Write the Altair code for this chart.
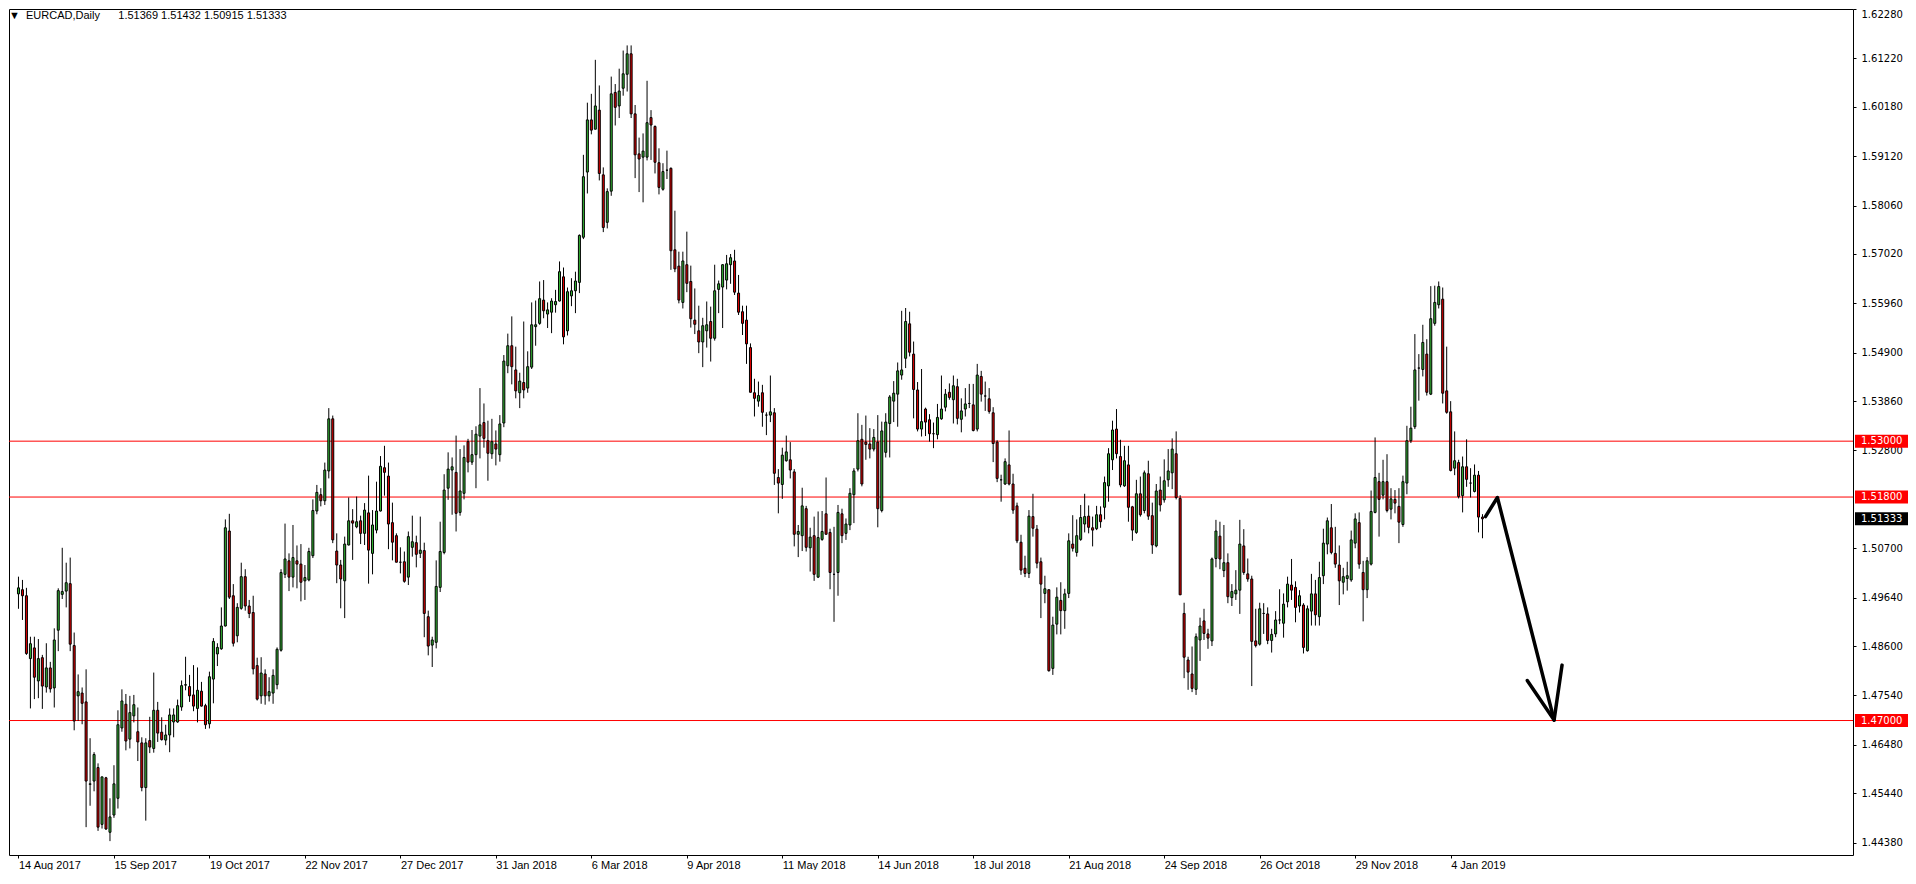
import json
import altair as alt
import pandas as pd

# ---- data (EURCAD daily) ----
opens = [
    1.4972, 1.4981, 1.4968, 1.4833, 1.4856, 1.4785, 1.4835, 1.4772, 1.4813, 1.4770,
    1.4894, 1.4971, 1.4978, 1.4994, 1.4861, 1.4753, 1.4759, 1.4740, 1.4563, 1.4570,
    1.4599, 1.4477, 1.4577, 1.4460, 1.4497, 1.4533, 1.4684, 1.4735, 1.4660, 1.4710,
    1.4676, 1.4652, 1.4556, 1.4657, 1.4640, 1.4722, 1.4675, 1.4658, 1.4669, 1.4697,
    1.4697, 1.4729, 1.4776, 1.4773, 1.4755, 1.4726, 1.4763, 1.4732, 1.4693, 1.4789,
    1.4843, 1.4854, 1.4903, 1.5107, 1.4968, 1.4882, 1.4941, 1.5009, 1.4946, 1.4932,
    1.4818, 1.4753, 1.4800, 1.4753, 1.4759, 1.4777, 1.4851, 1.5014, 1.5043, 1.5008,
    1.5043, 1.5036, 1.5000, 1.5002, 1.5054, 1.5150, 1.5185, 1.5172, 1.5236, 1.5348,
    1.5064, 1.5034, 1.5000, 1.5077, 1.5129, 1.5116, 1.5129, 1.5102, 1.5146, 1.5059,
    1.5109, 1.5150, 1.5243, 1.5225, 1.5125, 1.5097, 1.5040, 1.5041, 1.5008, 1.5072,
    1.5082, 1.5059, 1.5065, 1.4923, 1.4862, 1.4868, 1.4986, 1.5061, 1.5199, 1.5238,
    1.5233, 1.5147, 1.5188, 1.5299, 1.5255, 1.5271, 1.5311, 1.5340, 1.5301, 1.5273,
    1.5294, 1.5271, 1.5339, 1.5462, 1.5505, 1.5453, 1.5404, 1.5426, 1.5414, 1.5459,
    1.5546, 1.5553, 1.5603, 1.5573, 1.5577, 1.5593, 1.5601, 1.5653, 1.5537, 1.5612,
    1.5623, 1.5641, 1.5738, 1.5878, 1.5990, 1.5970, 1.6011, 1.5872, 1.5770, 1.5837,
    1.6049, 1.6020, 1.6058, 1.6088, 1.6132, 1.6003, 1.5917, 1.5910, 1.5910, 1.5995,
    1.5976, 1.5898, 1.5841, 1.5882, 1.5886, 1.5711, 1.5676, 1.5598, 1.5679, 1.5643,
    1.5560, 1.5537, 1.5513, 1.5537, 1.5557, 1.5521, 1.5626, 1.5631, 1.5646, 1.5679,
    1.5687, 1.5618, 1.5578, 1.5560, 1.5501, 1.5404, 1.5386, 1.5404, 1.5356, 1.5356,
    1.5361, 1.5222, 1.5207, 1.5258, 1.5260, 1.5234, 1.5100, 1.5097, 1.5155, 1.5071,
    1.5097, 1.5008, 1.5089, 1.5144, 1.5104, 1.5014, 1.5018, 1.5144, 1.5102, 1.5120,
    1.5185, 1.5240, 1.5304, 1.5298, 1.5294, 1.5283, 1.5298, 1.5151, 1.5276, 1.5338,
    1.5386, 1.5401, 1.5442, 1.5478, 1.5552, 1.5487, 1.5410, 1.5326, 1.5369, 1.5346,
    1.5316, 1.5314, 1.5348, 1.5373, 1.5405, 1.5389, 1.5417, 1.5347, 1.5369, 1.5381,
    1.5378, 1.5326, 1.5439, 1.5397, 1.5391, 1.5361, 1.5298, 1.5217, 1.5208, 1.5249,
    1.5208, 1.5161, 1.5083, 1.5027, 1.5016, 1.5138, 1.5111, 1.5041, 1.4973, 1.4981,
    1.4812, 1.4907, 1.4958, 1.4936, 1.4973, 1.5079, 1.5061, 1.5089, 1.5122, 1.5139,
    1.5114, 1.5112, 1.5142, 1.5158, 1.5204, 1.5260, 1.5326, 1.5267, 1.5204, 1.5249,
    1.5159, 1.5104, 1.5187, 1.5151, 1.5230, 1.5140, 1.5075, 1.5195, 1.5174, 1.5217,
    1.5232, 1.5273, 1.5177, 1.4930, 1.4830, 1.4800, 1.4767, 1.4873, 1.4914, 1.4886,
    1.4871, 1.5048, 1.5096, 1.5022, 1.5039, 1.4964, 1.4972, 1.4980, 1.5075, 1.5015,
    1.5004, 1.4871, 1.4864, 1.4930, 1.4929, 1.4872, 1.4886, 1.4916, 1.4909, 1.4955,
    1.4991, 1.4986, 1.4946, 1.4948, 1.4850, 1.4935, 1.4972, 1.4923, 1.5011, 1.5079,
    1.5114, 1.5059, 1.5034, 1.4997, 1.5005, 1.5002, 1.5081, 1.5125, 1.5018, 1.4981,
    1.5036, 1.5147, 1.5213, 1.5184, 1.5213, 1.5154, 1.5175, 1.5160, 1.5121, 1.5210,
    1.5301, 1.5331, 1.5457, 1.5454, 1.5487, 1.5401, 1.5553, 1.5593, 1.5605, 1.5408,
    1.5363, 1.5242, 1.5254, 1.5183, 1.5245, 1.5210, 1.5192, 1.5227, 1.51369,
]

highs = [
    1.5009, 1.5002, 1.4985, 1.4880, 1.4880, 1.4875, 1.4841, 1.4866, 1.4826, 1.4898,
    1.4984, 1.5071, 1.5039, 1.5050, 1.4889, 1.4799, 1.4771, 1.4810, 1.4662, 1.4632,
    1.4608, 1.4579, 1.4579, 1.4533, 1.4604, 1.4722, 1.4767, 1.4757, 1.4753, 1.4755,
    1.4728, 1.4664, 1.4662, 1.4708, 1.4803, 1.4740, 1.4707, 1.4691, 1.4726, 1.4726,
    1.4745, 1.4786, 1.4837, 1.4798, 1.4819, 1.4814, 1.4783, 1.4736, 1.4805, 1.4877,
    1.4866, 1.4943, 1.5132, 1.5144, 1.4993, 1.4952, 1.5039, 1.5025, 1.4959, 1.4968,
    1.4835, 1.4836, 1.4810, 1.4793, 1.4810, 1.4857, 1.5025, 1.5123, 1.5059, 1.5120,
    1.5076, 1.5079, 1.5034, 1.5071, 1.5175, 1.5206, 1.5199, 1.5254, 1.5371, 1.5355,
    1.5102, 1.5045, 1.5095, 1.5179, 1.5154, 1.5181, 1.5140, 1.5167, 1.5226, 1.5152,
    1.5213, 1.5268, 1.5290, 1.5254, 1.5168, 1.5102, 1.5072, 1.5063, 1.5106, 1.5140,
    1.5097, 1.5138, 1.5082, 1.4936, 1.4880, 1.5044, 1.5127, 1.5229, 1.5276, 1.5265,
    1.5312, 1.5283, 1.5291, 1.5305, 1.5324, 1.5332, 1.5414, 1.5381, 1.5344, 1.5348,
    1.5323, 1.5356, 1.5485, 1.5531, 1.5568, 1.5503, 1.5447, 1.5557, 1.5493, 1.5598,
    1.5602, 1.5643, 1.5646, 1.5598, 1.5607, 1.5625, 1.5686, 1.5673, 1.5630, 1.5650,
    1.5664, 1.5744, 1.5915, 1.6027, 1.6046, 1.6119, 1.6064, 1.5888, 1.5843, 1.6083,
    1.6067, 1.6100, 1.6139, 1.6150, 1.6150, 1.6022, 1.5952, 1.5961, 1.6074, 1.6011,
    1.5978, 1.5929, 1.5897, 1.5924, 1.5888, 1.5795, 1.5707, 1.5707, 1.5750, 1.5677,
    1.5628, 1.5591, 1.5565, 1.5600, 1.5589, 1.5679, 1.5645, 1.5680, 1.5700, 1.5702,
    1.5711, 1.5657, 1.5591, 1.5591, 1.5510, 1.5434, 1.5428, 1.5421, 1.5362, 1.5441,
    1.5371, 1.5240, 1.5286, 1.5312, 1.5298, 1.5240, 1.5120, 1.5200, 1.5161, 1.5114,
    1.5138, 1.5149, 1.5150, 1.5222, 1.5112, 1.5116, 1.5163, 1.5155, 1.5134, 1.5199,
    1.5242, 1.5360, 1.5335, 1.5355, 1.5328, 1.5326, 1.5356, 1.5342, 1.5360, 1.5399,
    1.5429, 1.5469, 1.5580, 1.5586, 1.5578, 1.5514, 1.5427, 1.5455, 1.5372, 1.5358,
    1.5340, 1.5380, 1.5441, 1.5412, 1.5424, 1.5441, 1.5434, 1.5392, 1.5414, 1.5423,
    1.5423, 1.5466, 1.5451, 1.5428, 1.5414, 1.5373, 1.5302, 1.5228, 1.5263, 1.5323,
    1.5230, 1.5168, 1.5099, 1.5054, 1.5152, 1.5187, 1.5120, 1.5050, 1.5011, 1.4981,
    1.4923, 1.4986, 1.4997, 1.4983, 1.5102, 1.5141, 1.5132, 1.5163, 1.5187, 1.5162,
    1.5138, 1.5161, 1.5160, 1.5224, 1.5285, 1.5344, 1.5369, 1.5303, 1.5290, 1.5290,
    1.5161, 1.5217, 1.5224, 1.5237, 1.5258, 1.5168, 1.5208, 1.5224, 1.5261, 1.5283,
    1.5306, 1.5321, 1.5184, 1.4953, 1.4837, 1.4859, 1.4887, 1.4921, 1.4940, 1.4897,
    1.5050, 1.5131, 1.5127, 1.5120, 1.5059, 1.4993, 1.5023, 1.5131, 1.5111, 1.5048,
    1.5011, 1.4940, 1.4953, 1.4952, 1.4943, 1.4897, 1.4935, 1.4982, 1.4973, 1.5009,
    1.5047, 1.4999, 1.4980, 1.4952, 1.4947, 1.5015, 1.5002, 1.5041, 1.5112, 1.5136,
    1.5165, 1.5116, 1.5076, 1.5028, 1.5041, 1.5108, 1.5145, 1.5147, 1.5043, 1.5051,
    1.5194, 1.5308, 1.5232, 1.5260, 1.5272, 1.5199, 1.5195, 1.5199, 1.5226, 1.5333,
    1.5374, 1.5530, 1.5487, 1.5550, 1.5519, 1.5633, 1.5634, 1.5643, 1.5630, 1.5503,
    1.5386, 1.5321, 1.5260, 1.5267, 1.5304, 1.5242, 1.5250, 1.5236, 1.51432,
]

lows = [
    1.4940, 1.4916, 1.4841, 1.4726, 1.4746, 1.4748, 1.4725, 1.4760, 1.4760, 1.4728,
    1.4849, 1.4961, 1.4943, 1.4849, 1.4679, 1.4699, 1.4692, 1.4471, 1.4517, 1.4548,
    1.4463, 1.4468, 1.4465, 1.4441, 1.4491, 1.4511, 1.4676, 1.4636, 1.4640, 1.4696,
    1.4613, 1.4548, 1.4485, 1.4630, 1.4631, 1.4654, 1.4657, 1.4647, 1.4632, 1.4664,
    1.4695, 1.4721, 1.4765, 1.4740, 1.4720, 1.4696, 1.4730, 1.4682, 1.4683, 1.4737,
    1.4817, 1.4852, 1.4902, 1.4961, 1.4859, 1.4868, 1.4938, 1.4936, 1.4920, 1.4799,
    1.4743, 1.4736, 1.4734, 1.4741, 1.4736, 1.4767, 1.4848, 1.5006, 1.4978, 1.4986,
    1.4984, 1.4956, 1.4959, 1.4999, 1.5049, 1.5143, 1.5160, 1.5163, 1.5220, 1.5081,
    1.4995, 1.4941, 1.4920, 1.5076, 1.5045, 1.5113, 1.5079, 1.5077, 1.4994, 1.5014,
    1.5102, 1.5149, 1.5183, 1.5068, 1.5044, 1.5040, 1.5016, 1.4996, 1.4991, 1.5052,
    1.5029, 1.5049, 1.4879, 1.4840, 1.4815, 1.4855, 1.4976, 1.5057, 1.5174, 1.5142,
    1.5106, 1.5140, 1.5175, 1.5233, 1.5249, 1.5199, 1.5263, 1.5286, 1.5215, 1.5262,
    1.5248, 1.5256, 1.5330, 1.5446, 1.5422, 1.5392, 1.5371, 1.5392, 1.5404, 1.5455,
    1.5505, 1.5550, 1.5564, 1.5543, 1.5532, 1.5576, 1.5600, 1.5508, 1.5527, 1.5590,
    1.5575, 1.5618, 1.5734, 1.5832, 1.5959, 1.5970, 1.5860, 1.5749, 1.5757, 1.5827,
    1.5978, 1.5994, 1.6042, 1.6051, 1.5994, 1.5865, 1.5835, 1.5813, 1.5903, 1.5904,
    1.5875, 1.5830, 1.5838, 1.5863, 1.5668, 1.5663, 1.5596, 1.5585, 1.5620, 1.5544,
    1.5530, 1.5489, 1.5459, 1.5501, 1.5471, 1.5516, 1.5575, 1.5543, 1.5626, 1.5638,
    1.5614, 1.5571, 1.5528, 1.5466, 1.5405, 1.5353, 1.5374, 1.5331, 1.5313, 1.5341,
    1.5206, 1.5145, 1.5176, 1.5256, 1.5220, 1.5074, 1.5051, 1.5064, 1.5063, 1.5020,
    1.5000, 1.5006, 1.5086, 1.5100, 1.4982, 1.4912, 1.4968, 1.5081, 1.5088, 1.5109,
    1.5124, 1.5235, 1.5203, 1.5260, 1.5263, 1.5278, 1.5115, 1.5147, 1.5265, 1.5265,
    1.5341, 1.5331, 1.5432, 1.5457, 1.5482, 1.5349, 1.5321, 1.5310, 1.5311, 1.5299,
    1.5285, 1.5304, 1.5346, 1.5364, 1.5389, 1.5338, 1.5336, 1.5319, 1.5353, 1.5371,
    1.5321, 1.5321, 1.5385, 1.5365, 1.5359, 1.5255, 1.5212, 1.5170, 1.5206, 1.5205,
    1.5144, 1.5081, 1.5013, 1.5008, 1.5006, 1.5095, 1.5027, 1.4920, 1.4952, 1.4805,
    1.4798, 1.4885, 1.4885, 1.4897, 1.4963, 1.5063, 1.5052, 1.5086, 1.5104, 1.5102,
    1.5074, 1.5109, 1.5114, 1.5132, 1.5170, 1.5238, 1.5263, 1.5201, 1.5202, 1.5127,
    1.5086, 1.5101, 1.5138, 1.5145, 1.5131, 1.5058, 1.5072, 1.5149, 1.5168, 1.5202,
    1.5197, 1.5175, 1.4970, 1.4791, 1.4766, 1.4761, 1.4755, 1.4828, 1.4873, 1.4854,
    1.4860, 1.5029, 1.5025, 1.5008, 1.4952, 1.4946, 1.4959, 1.4929, 1.5013, 1.4998,
    1.4774, 1.4857, 1.4861, 1.4886, 1.4864, 1.4846, 1.4879, 1.4907, 1.4878, 1.4943,
    1.4959, 1.4911, 1.4932, 1.4844, 1.4848, 1.4904, 1.4904, 1.4904, 1.4993, 1.5057,
    1.5057, 1.5028, 1.4948, 1.4971, 1.4979, 1.4998, 1.5070, 1.5026, 1.4913, 1.4963,
    1.5033, 1.5145, 1.5095, 1.5175, 1.5147, 1.5132, 1.5145, 1.5081, 1.5116, 1.5186,
    1.5296, 1.5326, 1.5387, 1.5439, 1.5398, 1.5399, 1.5548, 1.5585, 1.5381, 1.5359,
    1.5235, 1.5227, 1.5177, 1.5147, 1.5202, 1.5179, 1.5190, 1.5104, 1.50915,
]

closes = [
    1.4985, 1.4968, 1.4844, 1.4865, 1.4793, 1.4833, 1.4774, 1.4813, 1.4768, 1.4873,
    1.4979, 1.4977, 1.4996, 1.4864, 1.4699, 1.4762, 1.4737, 1.4570, 1.4564, 1.4627,
    1.4471, 1.4579, 1.4467, 1.4493, 1.4564, 1.4691, 1.4742, 1.4656, 1.4717, 1.4734,
    1.4654, 1.4556, 1.4652, 1.4643, 1.4722, 1.4673, 1.4659, 1.4669, 1.4712, 1.4712,
    1.4732, 1.4775, 1.4777, 1.4753, 1.4731, 1.4765, 1.4731, 1.4691, 1.4794, 1.4870,
    1.4857, 1.4903, 1.5114, 1.4965, 1.4866, 1.4943, 1.5009, 1.4946, 1.4930, 1.4811,
    1.4746, 1.4802, 1.4753, 1.4762, 1.4797, 1.4853, 1.5018, 1.5047, 1.5008, 1.5050,
    1.5036, 1.4997, 1.5007, 1.5063, 1.5151, 1.5190, 1.5172, 1.5238, 1.5348, 1.5088,
    1.5034, 1.5004, 1.5079, 1.5129, 1.5124, 1.5127, 1.5102, 1.5152, 1.5066, 1.5120,
    1.5150, 1.5246, 1.5233, 1.5122, 1.5083, 1.5040, 1.5040, 1.4999, 1.5095, 1.5084,
    1.5057, 1.5066, 1.4930, 1.4860, 1.4873, 1.4988, 1.5063, 1.5195, 1.5240, 1.5245,
    1.5145, 1.5193, 1.5265, 1.5255, 1.5271, 1.5315, 1.5335, 1.5306, 1.5274, 1.5299,
    1.5283, 1.5337, 1.5472, 1.5505, 1.5460, 1.5408, 1.5429, 1.5410, 1.5460, 1.5550,
    1.5550, 1.5606, 1.5580, 1.5582, 1.5601, 1.5600, 1.5664, 1.5524, 1.5621, 1.5623,
    1.5644, 1.5742, 1.5868, 1.5990, 1.5968, 1.6020, 1.5875, 1.5759, 1.5836, 1.6046,
    1.6017, 1.6052, 1.6089, 1.6132, 1.6003, 1.5915, 1.5906, 1.5923, 1.5984, 1.5979,
    1.5899, 1.5845, 1.5879, 1.5882, 1.5709, 1.5670, 1.5603, 1.5687, 1.5639, 1.5563,
    1.5551, 1.5513, 1.5548, 1.5550, 1.5521, 1.5623, 1.5638, 1.5679, 1.5681, 1.5694,
    1.5620, 1.5577, 1.5553, 1.5509, 1.5405, 1.5392, 1.5398, 1.5362, 1.5356, 1.5363,
    1.5231, 1.5210, 1.5270, 1.5277, 1.5238, 1.5100, 1.5106, 1.5161, 1.5072, 1.5094,
    1.5014, 1.5093, 1.5106, 1.5100, 1.5018, 1.5014, 1.5147, 1.5097, 1.5122, 1.5188,
    1.5236, 1.5301, 1.5208, 1.5293, 1.5283, 1.5308, 1.5155, 1.5322, 1.5341, 1.5395,
    1.5403, 1.5451, 1.5453, 1.5557, 1.5491, 1.5411, 1.5326, 1.5342, 1.5341, 1.5316,
    1.5316, 1.5351, 1.5369, 1.5401, 1.5394, 1.5419, 1.5349, 1.5365, 1.5380, 1.5381,
    1.5323, 1.5442, 1.5401, 1.5397, 1.5364, 1.5295, 1.5220, 1.5217, 1.5256, 1.5208,
    1.5152, 1.5086, 1.5023, 1.5016, 1.5139, 1.5113, 1.5038, 1.4993, 1.4983, 1.4807,
    1.4905, 1.4965, 1.4936, 1.4972, 1.5086, 1.5070, 1.5097, 1.5136, 1.5138, 1.5115,
    1.5109, 1.5142, 1.5127, 1.5211, 1.5273, 1.5324, 1.5273, 1.5206, 1.5258, 1.5158,
    1.5109, 1.5187, 1.5142, 1.5232, 1.5139, 1.5077, 1.5193, 1.5163, 1.5215, 1.5236,
    1.5283, 1.5179, 1.4970, 1.4836, 1.4804, 1.4769, 1.4880, 1.4903, 1.4887, 1.4877,
    1.5047, 1.5107, 1.5047, 1.5039, 1.4966, 1.4977, 1.4980, 1.5079, 1.5018, 1.5004,
    1.4870, 1.4861, 1.4940, 1.4930, 1.4872, 1.4885, 1.4916, 1.4916, 1.4950, 1.4993,
    1.4980, 1.4943, 1.4968, 1.4857, 1.4940, 1.4972, 1.4927, 1.5007, 1.5081, 1.5129,
    1.5061, 1.5036, 1.5000, 1.5009, 1.5011, 1.5088, 1.5133, 1.5036, 1.4981, 1.5043,
    1.5149, 1.5222, 1.5175, 1.5213, 1.5151, 1.5176, 1.5167, 1.5126, 1.5213, 1.5301,
    1.5328, 1.5453, 1.5457, 1.5512, 1.5405, 1.5563, 1.5598, 1.5632, 1.5403, 1.5362,
    1.5237, 1.5258, 1.5181, 1.5245, 1.5218, 1.5210, 1.5227, 1.5137, 1.51333,
]

date_labels = ["14 Aug 2017", "15 Sep 2017", "19 Oct 2017", "22 Nov 2017",
               "27 Dec 2017", "31 Jan 2018", "6 Mar 2018", "9 Apr 2018",
               "11 May 2018", "14 Jun 2018", "18 Jul 2018", "21 Aug 2018",
               "24 Sep 2018", "26 Oct 2018", "29 Nov 2018", "4 Jan 2019"]
date_label_bars = [0, 24, 48, 72, 96, 120, 144, 168, 192, 216, 240, 264, 288, 312, 336, 360]

price_ticks = [1.62280, 1.61220, 1.60180, 1.59120, 1.58060, 1.57020, 1.55960,
               1.54900, 1.53860, 1.52800, 1.50700, 1.49640, 1.48600, 1.47540,
               1.46480, 1.45440, 1.44380]

levels = [1.53000, 1.51800, 1.47000]
last_price = 1.51333

arrow_bar = [368.75, 371.75, 386.0]
arrow_price = [1.5138, 1.5179, 1.4701]
head_bar = [379.25, 386.0, 388.0]
head_price = [1.4786, 1.4701, 1.4819]

symbol = "EURCAD,Daily"

# ---- chart ----
W, H = 1844, 846
PX_PER_UNIT = 4656.0
TOP = 1.62282

df = pd.DataFrame({
    "i": list(range(len(closes))),
    "open": opens, "high": highs, "low": lows, "close": closes,
})
df["dir"] = ["up" if c >= o else "down" for o, c in zip(opens, closes)]

xs = alt.Scale(domain=[-1.125, -1.125 + W / 4.0], nice=False, zero=False)
ys = alt.Scale(domain=[TOP - H / PX_PER_UNIT, TOP], nice=False, zero=False)

label_expr = json.dumps(date_labels) + "[round(datum.value / 24)]"
x_axis = alt.Axis(values=date_label_bars, labelExpr=label_expr, labelAlign="left",
                  labelBaseline="top", labelPadding=1, tickSize=3, tickColor="black",
                  labelColor="black", labelFont="Liberation Sans", labelFontSize=11,
                  domain=False, grid=False, title=None, labelOverlap=False,
                  labelFlush=False)
y_axis = alt.Axis(orient="right", values=price_ticks, format=".5f",
                  labelFont="DejaVu Sans", labelFontSize=10, labelColor="black",
                  tickColor="black", tickSize=3, labelPadding=5, domain=False,
                  grid=False, title=None, labelOverlap=False, labelFlush=1)

levels_layer = alt.Chart(pd.DataFrame({"price": levels})).mark_rule(
    color="#ff0000", strokeWidth=1
).encode(y=alt.Y("price:Q", scale=ys, axis=y_axis))

wicks = alt.Chart(df).mark_rule(color="black", strokeWidth=1).encode(
    x=alt.X("i:Q", scale=xs, axis=x_axis),
    y=alt.Y("low:Q", scale=ys, axis=y_axis),
    y2="high:Q",
)

bodies = alt.Chart(df).mark_bar(width=2, stroke="black", strokeWidth=1).encode(
    x=alt.X("i:Q", scale=xs, axis=x_axis),
    y=alt.Y("open:Q", scale=ys, axis=y_axis),
    y2="close:Q",
    fill=alt.Fill("dir:N", scale=alt.Scale(domain=["up", "down"],
                                           range=["#33b533", "#e00000"]), legend=None),
)

arrow_df = pd.DataFrame({"bar": arrow_bar, "price": arrow_price, "o": [0, 1, 2]})
head_df = pd.DataFrame({"bar": head_bar, "price": head_price, "o": [0, 1, 2]})

arrow = alt.Chart(arrow_df).mark_line(
    color="black", strokeWidth=3.5, strokeCap="round", strokeJoin="round"
).encode(
    x=alt.X("bar:Q", scale=xs, axis=x_axis),
    y=alt.Y("price:Q", scale=ys, axis=y_axis),
    order="o:Q",
)
head = alt.Chart(head_df).mark_line(
    color="black", strokeWidth=3.5, strokeCap="round", strokeJoin="round"
).encode(
    x=alt.X("bar:Q", scale=xs, axis=x_axis),
    y=alt.Y("price:Q", scale=ys, axis=y_axis),
    order="o:Q",
)

level_tags = pd.DataFrame({"price": levels})
last_tag = pd.DataFrame({"price": [last_price]})


def tag_box(data, fill):
    return alt.Chart(data).mark_rect(yOffset=-6.5, y2Offset=6.5, fill=fill).encode(
        y=alt.Y("price:Q", scale=ys, axis=y_axis),
        y2=alt.Y2("price:Q"),
        x=alt.value(W + 2),
        x2=alt.value(W + 55),
    )


tag_text = alt.Chart(pd.concat([level_tags, last_tag], ignore_index=True)).mark_text(
    align="left", baseline="middle", color="white", font="DejaVu Sans", fontSize=10
).encode(
    y=alt.Y("price:Q", scale=ys, axis=y_axis),
    x=alt.value(W + 8),
    text=alt.Text("price:Q", format=".5f"),
)

nb = "\u00a0"
title_text = ("\u25BC" + nb * 2 + symbol + nb * 6 +
              f"{opens[-1]:.5f} {highs[-1]:.5f} {lows[-1]:.5f} {closes[-1]:.5f}")
title = alt.Chart(pd.DataFrame({"t": [title_text]})).mark_text(
    align="left", baseline="top", font="Liberation Sans", fontSize=11, color="black"
).encode(text="t:N", x=alt.value(0), y=alt.value(1))

chart = alt.layer(
    levels_layer, wicks, bodies, arrow, head,
    tag_box(level_tags, "#ff0000"), tag_box(last_tag, "#000000"),
    tag_text, title
).properties(
    width=W, height=H, padding=0, background="white"
).configure_view(
    stroke="black", strokeWidth=1
)

chart.save("out.html", embed_options={"renderer": "svg", "actions": False})
